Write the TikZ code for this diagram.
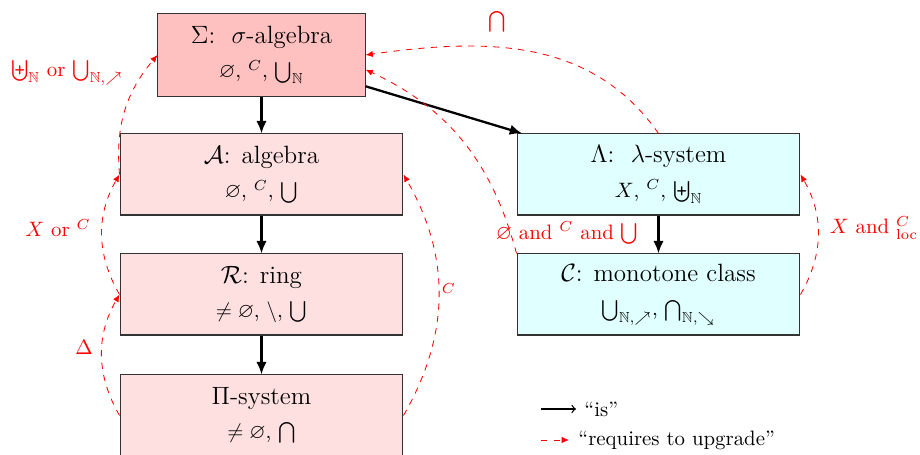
\documentclass[tikz,border=0pt]{standalone}
\usepackage{amsmath,amssymb}
\usetikzlibrary{arrows.meta}
\definecolor{sigfill}{RGB}{255,192,192}
\definecolor{pinkfill}{RGB}{255,224,224}
\definecolor{cyanfill}{RGB}{224,255,255}
\begin{document}
\begin{tikzpicture}[x=0.48pt,y=0.48pt,
  box/.style={draw=black!80, line width=0.5pt, minimum width=135.8pt, minimum height=38.9pt, align=center, inner sep=0pt},
  sigmabox/.style={box, fill=sigfill, minimum width=99.4pt, minimum height=39.4pt},
  pinkbox/.style={box, fill=pinkfill},
  cyanbox/.style={box, fill=cyanfill},
  isarrow/.style={-{Latex[length=6pt,width=5pt]}, line width=1.1pt},
  upgrade/.style={-{Latex[length=3.5pt,width=3pt]}, red, dashed, line width=0.4pt},
  lab/.style={red, inner sep=0pt}
]
\useasboundingbox (0,0) rectangle (920,-455);
\clip (0,0) rectangle (920,-455);

\node[sigmabox] (S) at (261.5,-55) {\large $\Sigma$:\ \ $\sigma$-algebra\\[4.5pt]\normalsize $\varnothing$, ${}^C$, $\bigcup_{\mathbb{N}}$};
\node[pinkbox] (A) at (261.5,-174.5) {\large $\mathcal{A}$: algebra\\[4.5pt]\normalsize $\varnothing$, ${}^C$, $\bigcup$};
\node[pinkbox] (R) at (261.5,-294.5) {\large $\mathcal{R}$: ring\\[4.5pt]\normalsize $\neq\varnothing$, $\setminus$, $\bigcup$};
\node[pinkbox] (P) at (261.5,-415.5) {\large $\Pi$-system\\[4.5pt]\normalsize $\neq\varnothing$, $\bigcap$};
\node[cyanbox] (L) at (658.5,-174.5) {\large $\Lambda$:\ \ $\lambda$-system\\[4.5pt]\normalsize $X$, ${}^C$, $\biguplus_{\mathbb{N}}$};
\node[cyanbox] (C) at (658.5,-294.5) {\large $\mathcal{C}$: monotone class\\[4.5pt]\normalsize $\bigcup_{\mathbb{N},\nearrow}$, $\bigcap_{\mathbb{N},\searrow}$};

\draw[isarrow] (S) -- (A);
\draw[isarrow] (A) -- (R);
\draw[isarrow] (R) -- (P);
\draw[isarrow] (S) -- (L);
\draw[isarrow] (L) -- (C);

\draw[upgrade] (L.north) to[out=125,in=8] (S.east);
\draw[upgrade] (C.north west) to[out=105,in=-25] (S.-8);
\draw[upgrade] (A.west) to[out=95,in=230] (S.west);
\draw[upgrade] (R.west) to[out=120,in=240] (A.west);
\draw[upgrade] (P.west) to[out=120,in=240] (R.west);
\draw[upgrade] (P.east) to[out=60,in=-60] (A.east);
\draw[upgrade] (C.east) to[out=60,in=-60] (L.east);

\node[lab] (l1) at (497,-22) {$\bigcap$};
\node[lab] (l2) at (67,-73) {$\biguplus_{\mathbb{N}}$ or $\bigcup_{\mathbb{N},\nearrow}$};
\node[lab] (l3) at (58,-228) {$X$ or ${}^C$};
\node[lab] (l4) at (84,-347) {$\Delta$};
\node[lab] (l5) at (567,-233) {$\varnothing$ and ${}^C$ and $\bigcup$};
\node[lab] (l6) at (874,-228) {$X$ and ${}^C_{\mathrm{loc}}$};
\node[lab] (l7) at (449,-292) {${}^C$};

\coordinate (k1) at (541,-409);
\coordinate (k2) at (576,-409);
\coordinate (k3) at (541,-440);
\coordinate (k4) at (569,-440);
\draw[-to, line width=0.6pt] (k1) -- (k2);
\node[anchor=west, inner sep=0pt] (t1) at (584,-409) {``is''};
\draw[upgrade] (k3) -- (k4);
\node[anchor=west, inner sep=0pt] (t2) at (578,-440) {``requires to upgrade''};
\end{tikzpicture}
\end{document}
